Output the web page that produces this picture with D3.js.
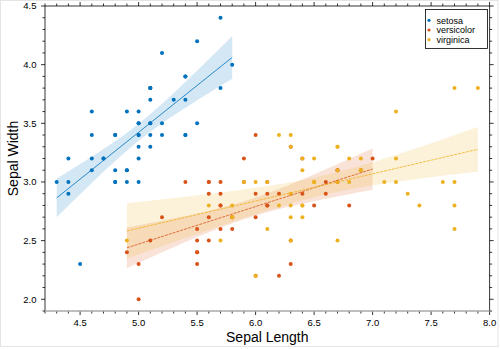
<!DOCTYPE html>
<html>
<head>
<meta charset="utf-8">
<script src="https://cdn.jsdelivr.net/npm/d3@7"></script>
<style>
  body { margin: 0; background: #fff; }
  svg { display: block; font-family: "Liberation Sans", Arial, Helvetica, sans-serif; }
</style>
</head>
<body>
<svg id="chart" width="500" height="349"></svg>
<script>
// Iris sepal measurements, one pair of arrays per species
const setosaLength = [5.1,4.9,4.7,4.6,5.0,5.4,4.6,5.0,4.4,4.9,5.4,4.8,4.8,4.3,5.8,5.7,5.4,5.1,5.7,5.1,5.4,5.1,4.6,5.1,4.8,5.0,5.0,5.2,5.2,4.7,4.8,5.4,5.2,5.5,4.9,5.0,5.5,4.9,4.4,5.1,5.0,4.5,4.4,5.0,5.1,4.8,5.1,4.6,5.3,5.0];
const setosaWidth  = [3.5,3.0,3.2,3.1,3.6,3.9,3.4,3.4,2.9,3.1,3.7,3.4,3.0,3.0,4.0,4.4,3.9,3.5,3.8,3.8,3.4,3.7,3.6,3.3,3.4,3.0,3.4,3.5,3.4,3.2,3.1,3.4,4.1,4.2,3.1,3.2,3.5,3.6,3.0,3.4,3.5,2.3,3.2,3.5,3.8,3.0,3.8,3.2,3.7,3.3];

const versicolorLength = [7.0,6.4,6.9,5.5,6.5,5.7,6.3,4.9,6.6,5.2,5.0,5.9,6.0,6.1,5.6,6.7,5.6,5.8,6.2,5.6,5.9,6.1,6.3,6.1,6.4,6.6,6.8,6.7,6.0,5.7,5.5,5.5,5.8,6.0,5.4,6.0,6.7,6.3,5.6,5.5,5.5,6.1,5.8,5.0,5.6,5.7,5.7,6.2,5.1,5.7];
const versicolorWidth  = [3.2,3.2,3.1,2.3,2.8,2.8,3.3,2.4,2.9,2.7,2.0,3.0,2.2,2.9,2.9,3.1,3.0,2.7,2.2,2.5,3.2,2.8,2.5,2.8,2.9,3.0,2.8,3.0,2.9,2.6,2.4,2.4,2.7,2.7,3.0,3.4,3.1,2.3,3.0,2.5,2.6,3.0,2.6,2.3,2.7,3.0,2.9,2.9,2.5,2.8];

const virginicaLength = [6.3,5.8,7.1,6.3,6.5,7.6,4.9,7.3,6.7,7.2,6.5,6.4,6.8,5.7,5.8,6.4,6.5,7.7,7.7,6.0,6.9,5.6,7.7,6.3,6.7,7.2,6.2,6.1,6.4,7.2,7.4,7.9,6.4,6.3,6.1,7.7,6.3,6.4,6.0,6.9,6.7,6.9,5.8,6.8,6.7,6.7,6.3,6.5,6.2,5.9];
const virginicaWidth  = [3.3,2.7,3.0,2.9,3.0,3.0,2.5,2.9,2.5,3.6,3.2,2.7,3.0,2.5,2.8,3.2,3.0,3.8,2.6,2.2,3.2,2.8,2.8,2.7,3.3,3.2,2.8,3.0,2.8,3.0,2.8,3.8,2.8,2.8,2.6,3.0,3.4,3.1,3.0,3.1,3.1,3.1,2.7,3.2,3.3,3.0,2.5,3.0,3.4,3.0];

const speciesNames = ['setosa', 'versicolor', 'virginica'];
const speciesColors = ['#0072BD', '#D95319', '#EDB120'];
const lineDash = [null, '3,1', '3,1'];

const xTicks = [4.5, 5.0, 5.5, 6.0, 6.5, 7.0, 7.5, 8.0];
const yTicks = [2.0, 2.5, 3.0, 3.5, 4.0, 4.5];

const groups = [
    {x: setosaLength, y: setosaWidth},
    {x: versicolorLength, y: versicolorWidth},
    {x: virginicaLength, y: virginicaWidth}
];

const svg = d3.select('#chart');
const plotLeft = 45, plotRight = 489.6, plotTop = 6, plotBottom = 311;

const x = d3.scaleLinear().domain([4.2, 8.0]).range([plotLeft, plotRight]);
const y = d3.scaleLinear().domain([1.9, 4.5]).range([plotBottom, plotTop]);

// Light frame round the figure
svg.append('rect')
    .attr('x', 0.5).attr('y', 0.5)
    .attr('width', 497.5).attr('height', 346)
    .style('fill', 'none')
    .style('stroke', '#e4e4e4');

// Least-squares fit with 95% confidence band of the mean
function fitLine(xs, ys) {
    const n = xs.length;
    const xbar = d3.mean(xs), ybar = d3.mean(ys);
    const sxx = d3.sum(xs, v => (v - xbar) ** 2);
    const sxy = d3.sum(xs, (v, i) => (v - xbar) * (ys[i] - ybar));
    const slope = sxy / sxx;
    const intercept = ybar - slope * xbar;
    const sse = d3.sum(xs, (v, i) => (ys[i] - (intercept + slope * v)) ** 2);
    const s = Math.sqrt(sse / (n - 2));
    const t = 2.0106; // t(0.975, 48)
    return {
        predict: v => intercept + slope * v,
        halfWidth: v => t * s * Math.sqrt(1 / n + (v - xbar) ** 2 / sxx),
        extent: d3.extent(xs)
    };
}

const fits = groups.map(g => fitLine(g.x, g.y));

const plot = svg.append('g');

// Confidence bands
fits.forEach((f, i) => {
    const [x0, x1] = f.extent;
    const samples = d3.range(61).map(k => x0 + (x1 - x0) * k / 60);
    const area = d3.area()
        .x(v => x(v))
        .y0(v => y(f.predict(v) - f.halfWidth(v)))
        .y1(v => y(f.predict(v) + f.halfWidth(v)));
    plot.append('path')
        .attr('d', area(samples))
        .style('fill', speciesColors[i])
        .style('fill-opacity', 0.17)
        .style('stroke', 'none');
});

// Points
groups.forEach((g, i) => {
    plot.append('g')
        .selectAll('circle')
        .data(g.x.map((v, k) => [v, g.y[k]]))
        .enter()
        .append('circle')
        .attr('cx', d => x(d[0]))
        .attr('cy', d => y(d[1]))
        .attr('r', 2)
        .style('fill', speciesColors[i]);
});

// Regression lines
fits.forEach((f, i) => {
    const [x0, x1] = f.extent;
    plot.append('line')
        .attr('x1', x(x0)).attr('y1', y(f.predict(x0)))
        .attr('x2', x(x1)).attr('y2', y(f.predict(x1)))
        .style('stroke', speciesColors[i])
        .style('stroke-width', 0.8)
        .style('stroke-dasharray', lineDash[i]);
});

// Axes: major ticks every 0.5, minor every 0.1, drawn outward on all four sides
const xMinor = d3.range(42, 81).map(v => v / 10);
const yMinor = d3.range(19, 46).map(v => v / 10);
const isMajor = v => Math.abs(v * 2 - Math.round(v * 2)) < 1e-6;

const axes = svg.append('g').style('stroke', '#000').style('stroke-width', 0.8);

xMinor.forEach(v => {
    const len = isMajor(v) ? 4 : 2.5;
    axes.append('line').attr('x1', x(v)).attr('x2', x(v)).attr('y1', plotBottom).attr('y2', plotBottom + len);
    axes.append('line').attr('x1', x(v)).attr('x2', x(v)).attr('y1', plotTop).attr('y2', plotTop - len);
});
yMinor.forEach(v => {
    const len = isMajor(v) ? 4 : 2.5;
    axes.append('line').attr('y1', y(v)).attr('y2', y(v)).attr('x1', plotLeft).attr('x2', plotLeft - len);
    axes.append('line').attr('y1', y(v)).attr('y2', y(v)).attr('x1', plotRight).attr('x2', plotRight + len);
});

axes.append('line').attr('x1', plotLeft).attr('x2', plotRight).attr('y1', plotTop).attr('y2', plotTop);
axes.append('line').attr('x1', plotLeft).attr('x2', plotLeft).attr('y1', plotTop).attr('y2', plotBottom);
axes.append('line').attr('x1', plotRight).attr('x2', plotRight).attr('y1', plotTop).attr('y2', plotBottom);
axes.append('line').attr('x1', plotLeft).attr('x2', plotRight).attr('y1', plotBottom).attr('y2', plotBottom)
    .style('stroke', '#a8a8a8').style('stroke-width', 1.3);

// Tick labels
svg.append('g').selectAll('text')
    .data(xTicks).enter().append('text')
    .attr('x', d => x(d)).attr('y', 326)
    .attr('text-anchor', 'middle')
    .style('font-size', '9.5px')
    .text(d => d.toFixed(1));

svg.append('g').selectAll('text')
    .data(yTicks).enter().append('text')
    .attr('x', 36.5).attr('y', d => y(d) + 3.4)
    .attr('text-anchor', 'end')
    .style('font-size', '9.5px')
    .text(d => d.toFixed(1));

// Axis titles
svg.append('text')
    .attr('x', (plotLeft + plotRight) / 2).attr('y', 341.5)
    .attr('text-anchor', 'middle')
    .style('font-size', '14px')
    .text('Sepal Length');

svg.append('text')
    .attr('transform', `translate(${17.5}, ${(plotTop + plotBottom) / 2}) rotate(-90)`)
    .attr('text-anchor', 'middle')
    .style('font-size', '14px')
    .text('Sepal Width');

// Legend
const legend = svg.append('g').attr('transform', `translate(${425.5}, ${9.5})`);
legend.append('rect')
    .attr('width', 62).attr('height', 39)
    .style('fill', '#fff')
    .style('stroke', '#000')
    .style('stroke-width', 0.8);

speciesNames.forEach((name, i) => {
    const cy = 10.8 + i * 9.7;
    legend.append('circle')
        .attr('cx', 3.5).attr('cy', cy).attr('r', 1.6)
        .style('fill', speciesColors[i]);
    legend.append('text')
        .attr('x', 11).attr('y', cy + 3.2)
        .style('font-size', '9px')
        .text(name);
});
</script>
</body>
</html>
